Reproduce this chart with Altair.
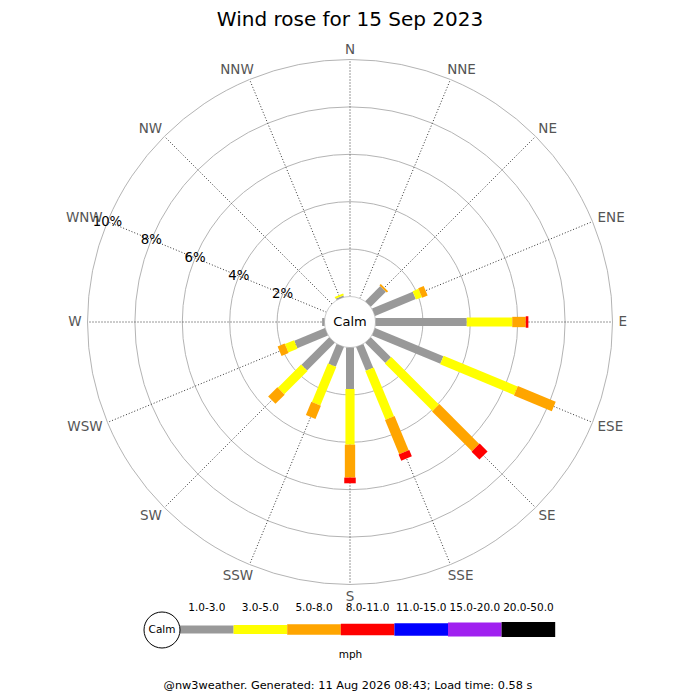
import pandas as pd
import altair as alt

# ---- data ------------------------------------------------------------------
directions = ["N", "NNE", "NE", "ENE", "E", "ESE", "SE", "SSE",
              "S", "SSW", "SW", "WSW", "W", "WNW", "NW", "NNW"]
bands = ["1.0-3.0", "3.0-5.0", "5.0-8.0", "8.0-11.0",
         "11.0-15.0", "15.0-20.0", "20.0-50.0"]

# % of the day, per direction, in each speed band (mph)
pct_1_3 = [0, 0, 0.90, 1.86, 3.85, 3.12, 1.20, 1.08, 1.75, 0.90, 1.65, 1.40, 0.10, 0, 0, 0.07]
pct_3_5 = [0, 0, 0, 0.27, 1.92, 3.38, 2.84, 2.23, 2.35, 1.76, 1.39, 0.42, 0, 0, 0, 0.08]
pct_5_8 = [0, 0, 0.08, 0.25, 0.57, 1.73, 2.38, 1.56, 1.39, 0.60, 0.55, 0.32, 0, 0, 0, 0]
pct_8_11 = [0, 0, 0, 0, 0.11, 0, 0.47, 0.29, 0.24, 0, 0, 0, 0, 0, 0, 0]
pct_11_15 = [0] * 16
pct_15_20 = [0] * 16
pct_20_50 = [0] * 16

rings = [2, 4, 6, 8, 10]
ring_labels = ["2%", "4%", "6%", "8%", "10%"]

title_text = "Wind rose for 15 Sep 2023"
footer_text = "@nw3weather. Generated: 11 Aug 2026 08:43; Load time: 0.58 s"

# ---- styles / layout -------------------------------------------------------
band_colors = ["#999999", "#ffff00", "#ffa500", "#ff0000",
               "#0000ff", "#a020f0", "#000000"]
band_widths = [8, 15, 20, 23, 25, 27, 29]
FONT = "DejaVu Sans"
COMPASS_SIZE = 13.5

W, H = 684, 684          # whole drawing area
CX, CY = 342, 314        # rose centre inside the view
PX = 23.7                # pixels per 1 %
CALM_PX = 25.5
CALM = CALM_PX / PX

x_scale = alt.Scale(domain=[-CX / PX, (W - CX) / PX], nice=False, zero=False)
y_scale = alt.Scale(domain=[-(H - CY) / PX, CY / PX], nice=False, zero=False)


def X(field):
    return alt.X(field, type="quantitative", scale=x_scale, axis=None)


def Y(field):
    return alt.Y(field, type="quantitative", scale=y_scale, axis=None)


def vy(view_y):
    # view pixel row -> y data unit
    return (CY - view_y) / PX


def vx(view_x):
    return (view_x - CX) / PX


# long table of segments
series = [pct_1_3, pct_3_5, pct_5_8, pct_8_11, pct_11_15, pct_15_20, pct_20_50]
rows = []
for i, d in enumerate(directions):
    start = 0.0
    for b, vals in zip(bands, series):
        rows.append({"dir": d, "idx": i, "band": b, "pct": vals[i], "start": start})
        start += vals[i]
seg = pd.DataFrame(rows)
seg = seg[seg["pct"] > 0]

# rough half width of each compass label, to push it clear of the outer ring
glyph_em = {"N": 0.748, "E": 0.632, "S": 0.635, "W": 0.989}
dir_df = pd.DataFrame({"dir": directions, "idx": range(len(directions))})
dir_df["hw"] = [(sum(glyph_em[c] for c in d) * COMPASS_SIZE - 1) / 2 for d in directions]

ring_df = pd.DataFrame({"ring": rings, "label": ring_labels})
band_df = pd.DataFrame({"band": bands, "i": range(len(bands))})

color_enc = alt.Color("band:N", scale=alt.Scale(domain=bands, range=band_colors), legend=None)
width_enc = alt.StrokeWidth("band:O", scale=alt.Scale(domain=bands, range=band_widths), legend=None)

# ---- rose ------------------------------------------------------------------
ring_circles = alt.Chart(ring_df).transform_calculate(
    cx="0", cy="0", s=f"pow(2 * (datum.ring + {CALM}) * {PX}, 2)"
).mark_point(shape="circle", filled=False, color="#b4b4b4", strokeWidth=1, opacity=1).encode(
    x=X("cx"), y=Y("cy"), size=alt.Size("s:Q", scale=None)
)

spokes = alt.Chart(dir_df).transform_calculate(
    t="datum.idx * PI / 8",
    x0=f"{CALM} * sin(datum.t)", y0=f"{CALM} * cos(datum.t)",
    x1=f"({CALM} + 10) * sin(datum.t)", y1=f"({CALM} + 10) * cos(datum.t)",
).mark_rule(color="#333333", strokeWidth=1, strokeDash=[1, 2]).encode(
    x=X("x0"), y=Y("y0"), x2="x1", y2="y1"
)

calm_circle = alt.Chart(pd.DataFrame({"t": ["Calm"]})).transform_calculate(
    cx="0", cy="0", s=f"pow(2 * {CALM_PX}, 2)"
).mark_point(shape="circle", filled=True, fill="white", stroke="#cccccc",
             strokeWidth=1, opacity=1).encode(
    x=X("cx"), y=Y("cy"), size=alt.Size("s:Q", scale=None)
)

calm_text = alt.Chart(pd.DataFrame({"t": ["Calm"]})).transform_calculate(
    cx="0", cy="0"
).mark_text(font=FONT, fontSize=13, color="black", baseline="middle").encode(
    x=X("cx"), y=Y("cy"), text="t:N"
)

bars = alt.Chart(seg).transform_calculate(
    t="datum.idx * PI / 8",
    r0=f"{CALM} + datum.start",
    r1=f"{CALM} + datum.start + datum.pct",
    x0="datum.r0 * sin(datum.t)", y0="datum.r0 * cos(datum.t)",
    x1="datum.r1 * sin(datum.t)", y1="datum.r1 * cos(datum.t)",
).mark_rule(strokeCap="butt").encode(
    x=X("x0"), y=Y("y0"), x2="x1", y2="y1", color=color_enc, strokeWidth=width_enc
)

ring_text = alt.Chart(ring_df).transform_calculate(
    t="13 * PI / 8",
    x=f"(datum.ring + {CALM}) * sin(datum.t)",
    y=f"(datum.ring + {CALM}) * cos(datum.t)",
).mark_text(font=FONT, fontSize=13.3, color="black", baseline="middle").encode(
    x=X("x"), y=Y("y"), text="label:N"
)

compass = alt.Chart(dir_df).transform_calculate(
    t="datum.idx * PI / 8",
    sx="sin(datum.t)", cy="cos(datum.t)",
    x=f"(269 * datum.sx + (datum.sx >= 0 ? 1 : -1) * datum.hw * sqrt(abs(datum.sx))) / {PX}",
    y=f"(269 * datum.cy + datum.cy * 5.5 * (datum.cy > 0 ? 0.6 : 1.1)) / {PX}",
).mark_text(font=FONT, fontSize=COMPASS_SIZE, color="#555555", baseline="middle").encode(
    x=X("x"), y=Y("y"), text="dir:N"
)

title = alt.Chart(pd.DataFrame({"t": [title_text]})).transform_calculate(
    x="0", y=str(vy(18))
).mark_text(font=FONT, fontSize=20, color="black", baseline="alphabetic").encode(
    x=X("x"), y=Y("y"), text="t:N"
)

# ---- legend ----------------------------------------------------------------
LEG_X0 = vx(172)
LEG_W = 53.6 / PX
LEG_Y = vy(621.5)

leg_bars = alt.Chart(band_df).transform_calculate(
    x0=f"{LEG_X0} + datum.i * {LEG_W}",
    x1=f"{LEG_X0} + (datum.i + 1) * {LEG_W}",
    y=str(LEG_Y),
).mark_rule(strokeCap="butt").encode(
    x=X("x0"), x2="x1", y=Y("y"), color=color_enc, strokeWidth=width_enc
)

leg_labels = alt.Chart(band_df).transform_calculate(
    x=f"{LEG_X0} + (datum.i + 0.5) * {LEG_W}",
    y=str(vy(599.5)),
).mark_text(font=FONT, fontSize=10.5, color="black", baseline="middle").encode(
    x=X("x"), y=Y("y"), text="band:N"
)

leg_calm = alt.Chart(pd.DataFrame({"t": ["Calm"]})).transform_calculate(
    x=str(vx(154)), y=str(vy(622)), s="pow(36, 2)"
).mark_point(shape="circle", filled=True, fill="white", stroke="black",
             strokeWidth=1, opacity=1).encode(
    x=X("x"), y=Y("y"), size=alt.Size("s:Q", scale=None)
)

leg_calm_text = alt.Chart(pd.DataFrame({"t": ["Calm"]})).transform_calculate(
    x=str(vx(154)), y=str(vy(622))
).mark_text(font=FONT, fontSize=10.5, color="black", baseline="middle").encode(
    x=X("x"), y=Y("y"), text="t:N"
)

units = alt.Chart(pd.DataFrame({"t": ["mph"]})).transform_calculate(
    x=str(vx(342.5)), y=str(vy(646.5))
).mark_text(font=FONT, fontSize=10.5, color="black", baseline="middle").encode(
    x=X("x"), y=Y("y"), text="t:N"
)

footer = alt.Chart(pd.DataFrame({"t": [footer_text]})).transform_calculate(
    x=str(vx(340)), y=str(vy(683))
).mark_text(font=FONT, fontSize=11.3, color="black", baseline="bottom").encode(
    x=X("x"), y=Y("y"), text="t:N"
)

chart = alt.layer(
    ring_circles, spokes, calm_circle, bars, calm_text, ring_text, compass, title,
    leg_bars, leg_calm, leg_calm_text, leg_labels, units, footer
).properties(
    width=W, height=H,
    autosize=alt.AutoSizeParams(type="none"),
    padding=0,
    background="white",
).configure_view(
    strokeWidth=0
)

chart.save("out.html", embed_options={"renderer": "svg", "actions": False})
